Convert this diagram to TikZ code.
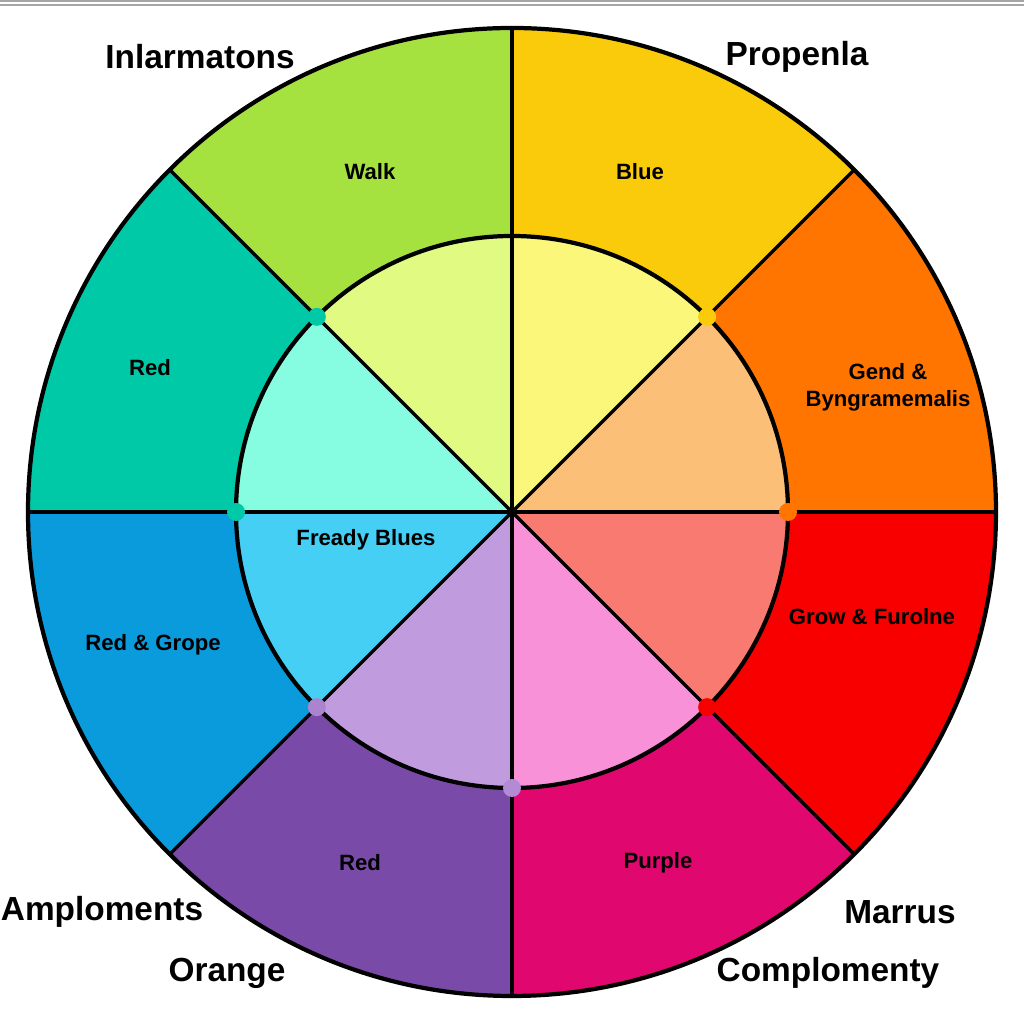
\documentclass[tikz,border=0pt]{standalone}
\usepackage{fontspec}
\setmainfont{Liberation Sans}
\usepackage{xcolor}
\usepackage{tikz}

% ring colours
\definecolor{limeout}{HTML}{A6E23F}
\definecolor{yellowout}{HTML}{F9CB0A}
\definecolor{orangeout}{HTML}{FF7500}
\definecolor{redout}{HTML}{F80000}
\definecolor{magentaout}{HTML}{E0086F}
\definecolor{purpleout}{HTML}{7A4AA8}
\definecolor{blueout}{HTML}{0A9BDD}
\definecolor{tealout}{HTML}{00C9A7}
\definecolor{limein}{HTML}{E0FA82}
\definecolor{yellowin}{HTML}{FAF77A}
\definecolor{orangein}{HTML}{FBBF78}
\definecolor{redin}{HTML}{F97A70}
\definecolor{magentain}{HTML}{F891D8}
\definecolor{purplein}{HTML}{C09CDF}
\definecolor{bluein}{HTML}{45CFF5}
\definecolor{tealin}{HTML}{86FCE0}

\tikzset{
  outerlabel/.style={font=\fontsize{9.5}{11}\selectfont\bfseries},
  innerlabel/.style={font=\fontsize{6.3}{7.6}\selectfont\bfseries, align=center},
}

\begin{document}
\begin{tikzpicture}
  \useasboundingbox[fill=white] (0,0) rectangle (10.24,-10.17);
  \coordinate (c) at (5.12,-5.12);

  % Top border
  \draw[line width=0.6pt, gray!70] (0,-0.01) -- (10.24,-0.01);
  \draw[line width=0.6pt, gray!70] (0,-0.05) -- (10.24,-0.05);

  % Outer ring
  \foreach \a/\col in {90/limeout,45/yellowout,0/orangeout,-45/redout,
                       -90/magentaout,-135/purpleout,180/blueout,135/tealout}
    \fill[\col] (c) -- ++(\a:4.84) arc (\a:\a+45:4.84) -- cycle;

  % Inner disc
  \foreach \a/\col in {90/limein,45/yellowin,0/orangein,-45/redin,
                       -90/magentain,-135/purplein,180/bluein,135/tealin}
    \fill[\col] (c) -- ++(\a:2.76) arc (\a:\a+45:2.76) -- cycle;

  % Dividers and circles
  \foreach \a in {0,45,...,315}
    \draw[line width=1pt] (c) -- ++(\a:4.84);
  \draw[line width=1.2pt] (c) circle (4.84);
  \draw[line width=1.2pt] (c) circle (2.76);

  % Dots on the inner circle
  \foreach \a/\col in {135/tealout,45/yellowout,0/orangeout,-45/redout,
                       -90/purplein!80!purpleout,-135/purplein!70!purpleout,180/tealout}
    \fill[\col] (c) ++(\a:2.76) circle (0.09);

  % Sector labels
  \node[innerlabel] (walk) at (3.70,-1.72) {Walk};
  \node[innerlabel] (blue) at (6.40,-1.72) {Blue};
  \node[innerlabel] (gend) at (8.88,-3.87) {Gend \&\\Byngramemalis};
  \node[innerlabel] (grow) at (8.72,-6.17) {Grow \& Furolne};
  \node[innerlabel] (purple) at (6.58,-8.63) {Purple};
  \node[innerlabel] (redlow) at (3.60,-8.63) {Red};
  \node[innerlabel] (grope) at (1.53,-6.45) {Red \& Grope};
  \node[innerlabel] (redup) at (1.50,-3.68) {Red};
  \node[innerlabel] (fready) at (3.66,-5.40) {Fready Blues};

  % Outer labels
  \node[outerlabel] (inlar) at (2.00,-0.57) {Inlarmatons};
  \node[outerlabel] (prop) at (7.97,-0.57) {Propenla};
  \node[outerlabel] (ampl) at (1.02,-9.12) {Amploments};
  \node[outerlabel] (orange) at (2.27,-9.73) {Orange};
  \node[outerlabel] (marrus) at (9.00,-9.12) {Marrus};
  \node[outerlabel] (compl) at (8.28,-9.73) {Complomenty};
\end{tikzpicture}
\end{document}
